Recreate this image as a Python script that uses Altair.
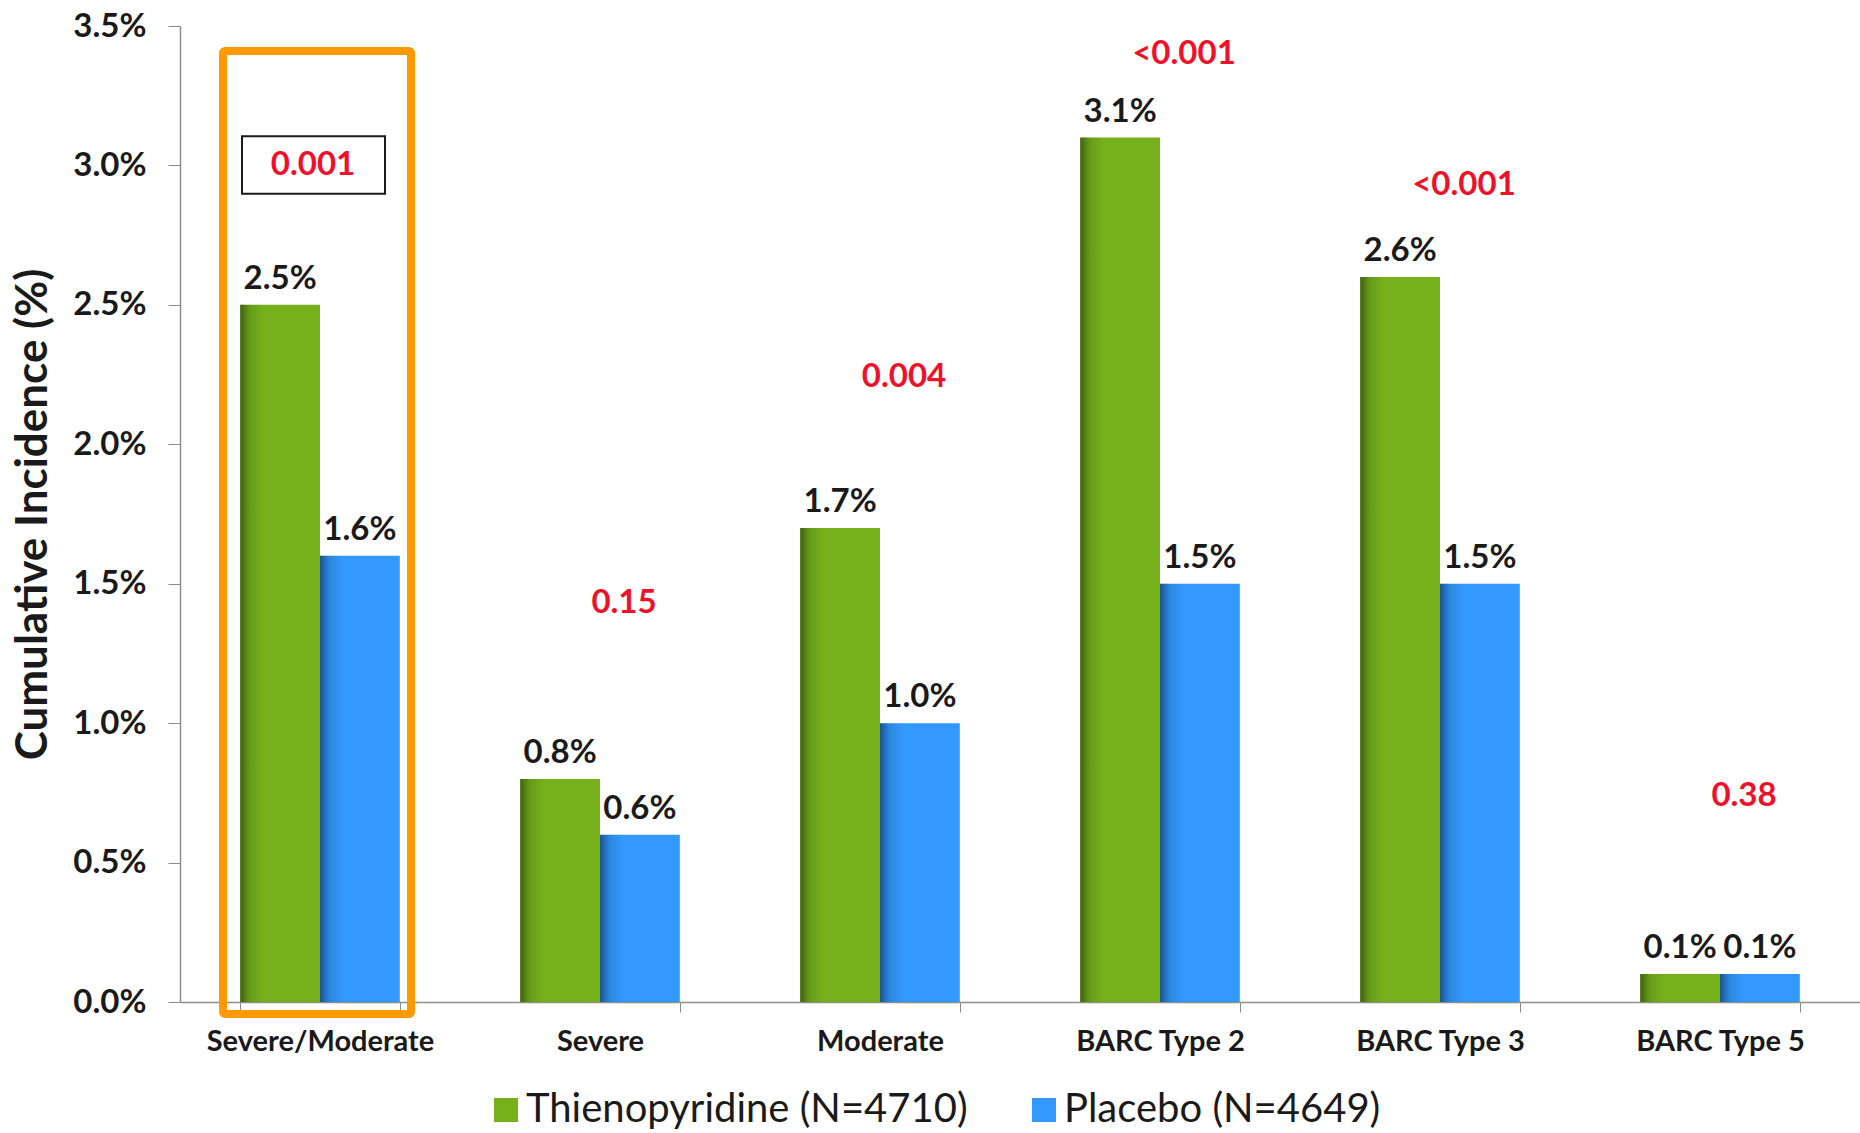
import altair as alt
import pandas as pd

# Bleeding end points, cumulative incidence (%)
categories = ["Severe/Moderate", "Severe", "Moderate", "BARC Type 2", "BARC Type 3", "BARC Type 5"]
series_names = ["Thienopyridine (N=4710)", "Placebo (N=4649)"]
thienopyridine = [2.5, 0.8, 1.7, 3.1, 2.6, 0.1]
placebo = [1.6, 0.6, 1.0, 1.5, 1.5, 0.1]

# P-values and the height (in %) at which each one is written
p_values = ["0.001", "0.15", "0.004", "<0.001", "<0.001", "0.38"]
p_label_y = [3.0, 1.43, 2.24, 3.40, 2.93, 0.74]

y_ticks = [0.0, 0.5, 1.0, 1.5, 2.0, 2.5, 3.0, 3.5]

GREEN = "#76B01B"
BLUE = "#3399FF"
RED = "#F0102A"
ORANGE = "#FF9900"
INK = "#1a1a1a"
FONT = "Lato"

rows = []
for i, cat in enumerate(categories):
    rows.append({"category": cat, "series": series_names[0], "value": thienopyridine[i]})
    rows.append({"category": cat, "series": series_names[1], "value": placebo[i]})
bars_df = pd.DataFrame(rows)
bars_df["label"] = bars_df["value"].map(lambda v: f"{v:.1f}%")

p_df = pd.DataFrame({"category": categories, "p": p_values, "y": p_label_y})

x_enc = alt.X(
    "category:N",
    sort=categories,
    scale=alt.Scale(paddingInner=0.43, paddingOuter=0.215),
    axis=alt.Axis(
        title=None,
        labelAngle=0,
        labelFont=FONT,
        labelFontSize=29,
        labelFontWeight="bold",
        labelColor=INK,
        labelLimit=0,
        labelPadding=15,
        tickBand="extent",
        tickSize=10,
        tickColor="#8c8c8c",
        domainColor="#8c8c8c",
        domainWidth=1.5,
    ),
)

y_scale = alt.Scale(domain=[0, 3.5], nice=False)

y_enc = alt.Y(
    "value:Q",
    scale=y_scale,
    axis=alt.Axis(
        title="Cumulative Incidence (%)",
        values=y_ticks,
        labelExpr="format(datum.value, '.1f') + '%'",
        labelFont=FONT,
        labelFontSize=33,
        labelFontWeight="bold",
        labelColor=INK,
        labelPadding=22,
        tickSize=12,
        tickColor="#8c8c8c",
        domainColor="#8c8c8c",
        domainWidth=1.5,
        grid=False,
        titleFont=FONT,
        titleFontSize=44,
        titleFontWeight="bold",
        titleColor=INK,
        titleX=-147,
        titleAlign="center",
        titleBaseline="middle",
        titleAngle=270,
    ),
)

xoff = alt.XOffset("series:N", sort=series_names, scale=alt.Scale(paddingInner=0))

bars = alt.Chart(bars_df).mark_bar().encode(
    x=x_enc,
    xOffset=xoff,
    y=y_enc,
    color=alt.Color(
        "series:N",
        sort=series_names,
        scale=alt.Scale(domain=series_names, range=[GREEN, BLUE]),
        legend=alt.Legend(
            title=None,
            orient="none",
            direction="horizontal",
            legendX=306,
            legendY=1064,
            symbolType="square",
            symbolSize=576,
            symbolStrokeWidth=0,
            labelFont=FONT,
            labelFontSize=40,
            labelColor=INK,
            labelLimit=0,
            labelOffset=0,
            columnPadding=56,
        ),
    ),
)

# darker left edge for a slightly rounded look
shade = alt.Chart(bars_df).mark_bar(
    color=alt.LinearGradient(
        gradient="linear",
        x1=0, x2=1, y1=0, y2=0,
        stops=[
            alt.GradientStop(color="rgba(0,0,0,0.45)", offset=0),
            alt.GradientStop(color="rgba(0,0,0,0.12)", offset=0.12),
            alt.GradientStop(color="rgba(0,0,0,0)", offset=0.3),
            alt.GradientStop(color="rgba(0,0,0,0)", offset=1),
        ],
    )
).encode(x=x_enc, xOffset=xoff, y=y_enc)

value_labels = alt.Chart(bars_df).mark_text(
    baseline="bottom", dy=-9, font=FONT, fontSize=33, fontWeight="bold", color=INK
).encode(x=x_enc, xOffset=xoff, y=y_enc, text="label:N")

p_main = alt.Chart(p_df).transform_filter(
    alt.datum.category != categories[0]
).mark_text(
    baseline="middle", dx=24, font=FONT, fontSize=33, fontWeight="bold", color=RED
).encode(x=x_enc, y=alt.Y("y:Q", scale=y_scale), text="p:N")

p_boxed = alt.Chart(p_df).transform_filter(
    alt.datum.category == categories[0]
).mark_text(
    baseline="middle", dx=-7, font=FONT, fontSize=33, fontWeight="bold", color=RED
).encode(x=x_enc, y=alt.Y("y:Q", scale=y_scale), text="p:N")

# thin frame round the first p-value
frame_df = pd.DataFrame({"category": [categories[0]], "top": [3.105], "bottom": [2.898]})
p_frame = alt.Chart(frame_df).mark_bar(
    width=143, xOffset=-6.5, fill="white", fillOpacity=0, stroke=INK, strokeWidth=2
).encode(x=x_enc, y=alt.Y("top:Q", scale=y_scale), y2="bottom:Q")

# orange highlight round the combined end point
hl_df = pd.DataFrame({"category": [categories[0]], "top": [3.41], "bottom": [-0.043]})
highlight = alt.Chart(hl_df).mark_bar(
    width=188, xOffset=-3, fill="white", fillOpacity=0, stroke=ORANGE, strokeWidth=8,
    cornerRadius=2
).encode(x=x_enc, y=alt.Y("top:Q", scale=y_scale), y2="bottom:Q")

chart = alt.layer(
    bars, shade, value_labels, p_frame, p_boxed, p_main, highlight
).properties(
    width=1680,
    height=976,
    padding={"left": 180, "top": 26, "right": 0, "bottom": 131},
    autosize=alt.AutoSizeParams(type="none"),
    background="white",
).configure_view(stroke=None)

chart.save("out.html", embed_options={"renderer": "svg", "actions": False})
